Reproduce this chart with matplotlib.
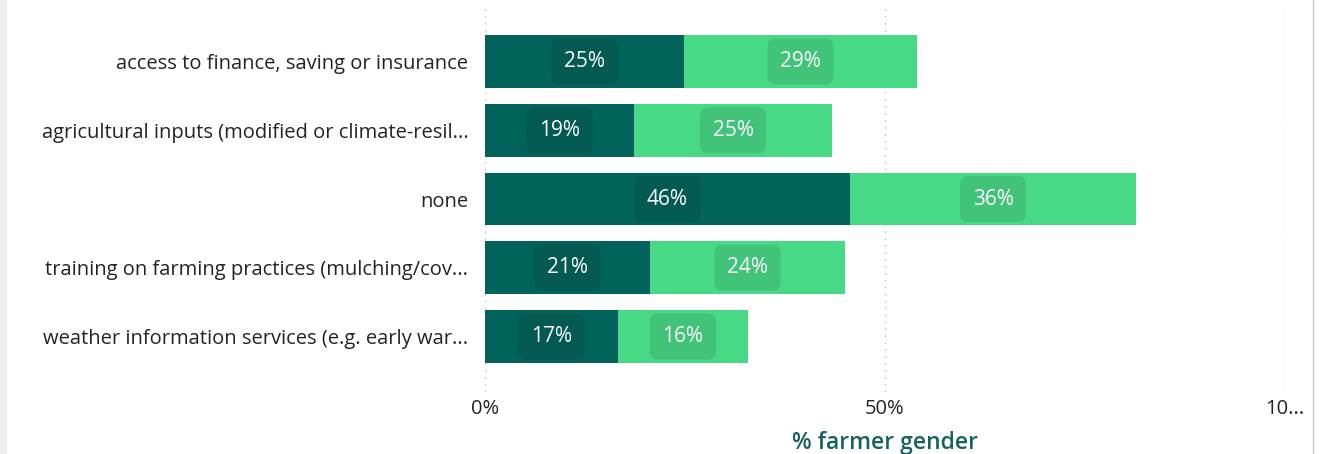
import matplotlib
matplotlib.use("Agg")
import matplotlib.pyplot as plt
from matplotlib.patches import Rectangle
from matplotlib.lines import Line2D

categories = [
    "access to finance, saving or insurance",
    "agricultural inputs (modified or climate-resil...",
    "none",
    "training on farming practices (mulching/cov...",
    "weather information services (e.g. early war...",
]
series_a = [24.9, 18.6, 45.6, 20.6, 16.6]
series_b = [29.1, 24.8, 35.8, 24.4, 16.3]
xticks = [0, 50, 100]
xtick_labels = ["0%", "50%", "10..."]
xlabel = "% farmer gender"

dark = "#02635C"
light = "#48D986"
dark_box = "#025A53"
light_box = "#41C37A"

plt.rcParams["font.family"] = ["Open Sans", "DejaVu Sans"]

fig = plt.figure(figsize=(13.24, 4.54), dpi=100)
ax = fig.add_axes([485 / 1324, 1 - 392 / 454, 800 / 1324, 384 / 454])

y = list(range(len(categories)))
ax.barh(y, series_a, height=0.77, color=dark, zorder=2)
ax.barh(y, series_b, left=series_a, height=0.77, color=light, zorder=2)

box = dict(boxstyle="round,pad=0.6,rounding_size=0.4", ec="none")
for i, (a, b) in enumerate(zip(series_a, series_b)):
    ax.text(a / 2, i, f"{a:.0f}%", ha="center", va="center", color="white",
            fontsize=15, zorder=3, bbox=dict(box, fc=dark_box))
    ax.text(a + b / 2, i, f"{b:.0f}%", ha="center", va="center", color="white",
            fontsize=15, zorder=3, bbox=dict(box, fc=light_box))

ax.set_xlim(0, 100)
ax.set_ylim(4.807, -0.778)
ax.set_yticks(y)
ax.set_yticklabels(categories, fontsize=14.5, color="#252423")
ax.set_xticks(xticks)
ax.set_xticklabels(xtick_labels, fontsize=14.5, color="#252423")
ax.tick_params(axis="both", length=0)
ax.tick_params(axis="y", pad=12)
ax.tick_params(axis="x", pad=5)

for t in xticks:
    ax.axvline(t, color="#b8b8b8", linestyle=(0, (1, 4)), linewidth=1.0, zorder=1)
for s in ax.spines.values():
    s.set_visible(False)

ax.set_xlabel(xlabel, fontsize=16.5, color="#17625D", fontweight="semibold", labelpad=9)

# panel framing
fig.patches.append(Rectangle((0, 0), 6 / 1324, 1, transform=fig.transFigure,
                             color="#eeeeee", zorder=0))
fig.lines.append(Line2D([1313 / 1324, 1313 / 1324], [0, 1], transform=fig.transFigure,
                        color="#c8c8c8", linewidth=1))

fig.savefig("out.png", dpi=100)
